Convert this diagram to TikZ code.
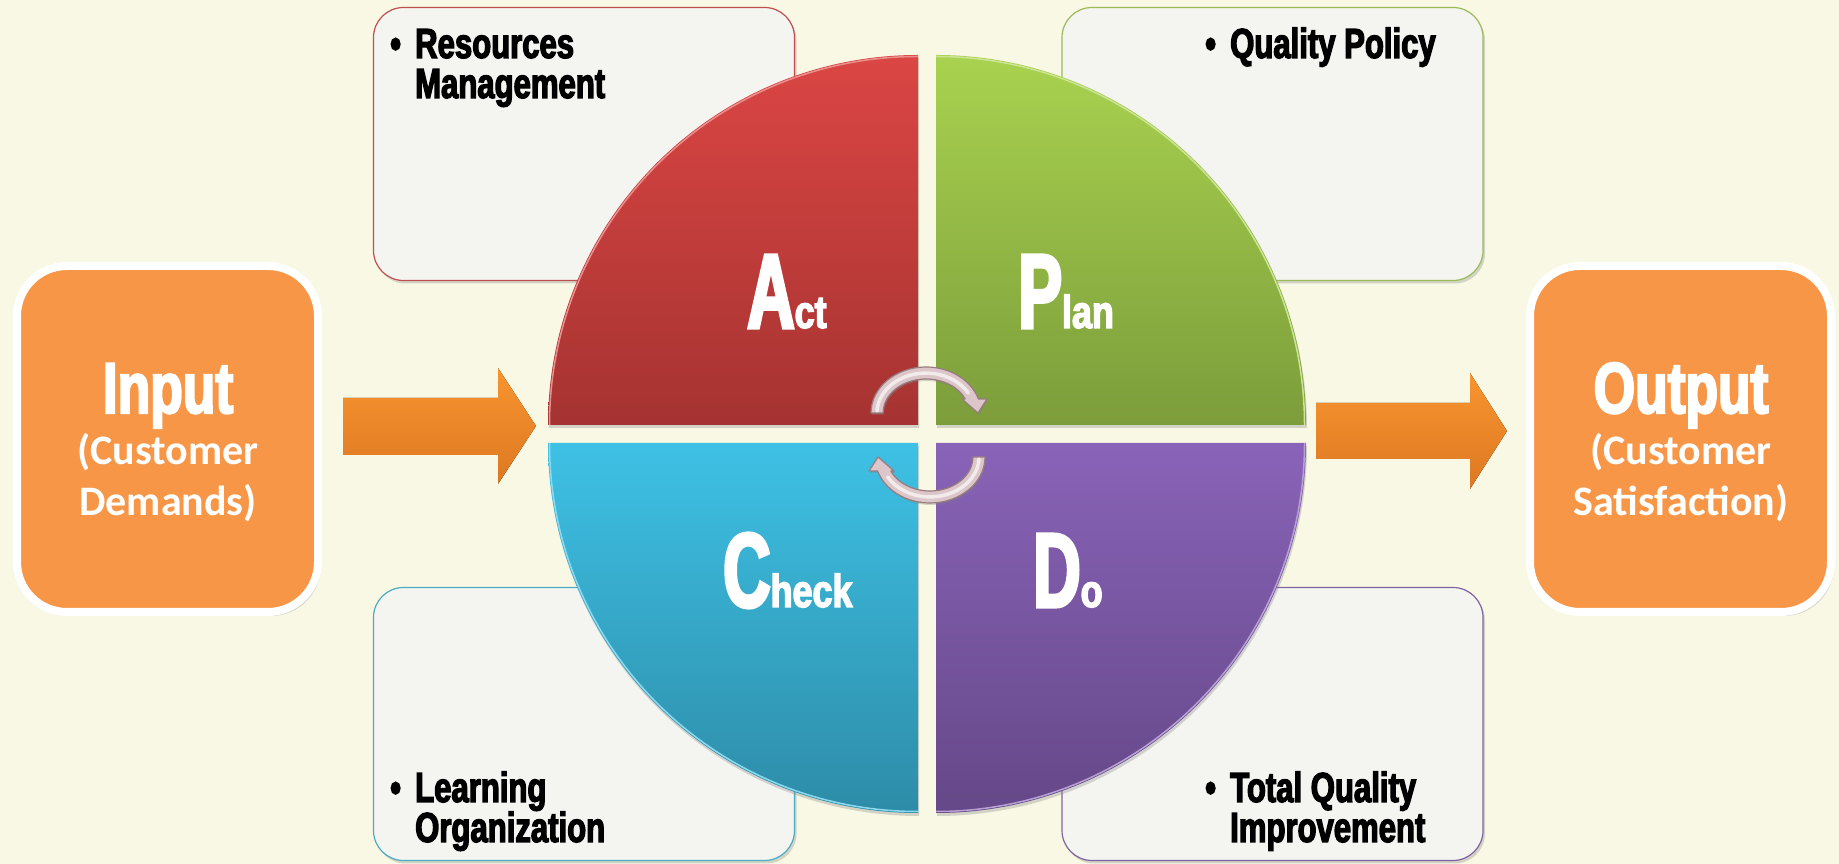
\documentclass[tikz,border=0pt]{standalone}
\usepackage{fontspec}
\setmainfont{Liberation Sans}
\newfontfamily\impbox[FakeStretch=0.74,FakeBold=3]{Liberation Sans}
\newfontfamily\impcap[FakeStretch=0.62,FakeBold=3]{Liberation Sans}
\newfontfamily\implow[FakeStretch=0.78,FakeBold=3]{Liberation Sans}
\newfontfamily\calib{Carlito}
\usetikzlibrary{shadows}
\definecolor{bg}{HTML}{F8F8E4}
\definecolor{orng}{HTML}{F79646}
\definecolor{boxfill}{HTML}{F4F4F0}
\definecolor{bred}{HTML}{C0504D}
\definecolor{bgreen}{HTML}{9BBB59}
\definecolor{bblue}{HTML}{4BACC6}
\definecolor{bpurple}{HTML}{8064A2}
\definecolor{actT}{HTML}{DB4644}
\definecolor{actB}{HTML}{A53331}
\definecolor{planT}{HTML}{A9D24F}
\definecolor{planB}{HTML}{7C9D3B}
\definecolor{checkT}{HTML}{3EC1E5}
\definecolor{checkB}{HTML}{2D8CA8}
\definecolor{doT}{HTML}{8963B8}
\definecolor{doB}{HTML}{654888}
\definecolor{arrT}{HTML}{F8952F}
\definecolor{arrB}{HTML}{DD7822}
\definecolor{cycfill}{HTML}{DCC6C9}
\definecolor{cycedge}{HTML}{977C80}
\newcommand\smallpart[1]{{\implow\bfseries\fontsize{46}{46}\selectfont #1}}
\begin{document}
\begin{tikzpicture}[x=1pt,y=1pt,
  infobox/.style={rectangle, rounded corners=30pt, fill=boxfill, line width=1.2pt,
    minimum width=421pt, minimum height=273pt,
    drop shadow={shadow xshift=2pt, shadow yshift=-3pt, opacity=0.3}},
  iobox/.style={rectangle, rounded corners=50pt, fill=orng, draw=white, line width=8pt,
    minimum width=301pt, minimum height=346pt,
    drop shadow={shadow xshift=3pt, shadow yshift=-4pt, opacity=0.3}},
  quad/.style={drop shadow={shadow xshift=1pt, shadow yshift=-3pt, opacity=0.3}},
  bigarrow/.style={top color=arrT, bottom color=arrB, draw=none},
  cyc/.style={fill=cycfill, draw=cycedge, line width=1.2pt, line join=round,
    drop shadow={shadow xshift=1pt, shadow yshift=-2pt, opacity=0.3}},
  cychl/.style={white, opacity=0.65, line width=3.5pt, line cap=round},
  pdca/.style={inner sep=0pt, anchor=base west, text=white,
    font=\impcap\bfseries\fontsize{106}{106}\selectfont},
  iotitle/.style={inner sep=0pt, anchor=base, text=white,
    font=\impbox\bfseries\fontsize{72}{72}\selectfont},
  iosub/.style={inner sep=0pt, anchor=base, text=white,
    font=\calib\bfseries\fontsize{42}{42}\selectfont},
  boxtxt/.style={inner sep=0pt, anchor=base west, text=black,
    font=\impbox\bfseries\fontsize{42}{42}\selectfont},
  bul/.style={boxtxt}
]
\useasboundingbox (0,0) rectangle (1839,864);
\fill[bg] (0,0) rectangle (1839,864);

% info boxes
\node[infobox, draw=bred] (boxA) at (584,720) {};
\node[infobox, draw=bgreen] (boxP) at (1272.5,720) {};
\node[infobox, draw=bblue] (boxC) at (584,140) {};
\node[infobox, draw=bpurple] (boxD) at (1272.5,140) {};

% input / output boxes
\node[iobox] (inBox) at (167.5,425) {};
\node[iobox] (outBox) at (1680.5,425) {};

% block arrows
\fill[bigarrow] (343,466) -- (498,466) -- (498,496) -- (536,438) -- (498,380) -- (498,409) -- (343,409) -- cycle;
\fill[bigarrow] (1316,461) -- (1470,461) -- (1470,491) -- (1507,433) -- (1470,375) -- (1470,405) -- (1316,405) -- cycle;

% quadrants
\path[quad, top color=actT, bottom color=actB] (918,439) -- (548,439) arc[start angle=180,end angle=90,radius=370] -- cycle;
\path[quad, top color=planT, bottom color=planB] (936,439) -- (936,809) arc[start angle=90,end angle=0,radius=370] -- cycle;
\path[quad, top color=checkT, bottom color=checkB] (918,421) -- (548,421) arc[start angle=180,end angle=270,radius=370] -- cycle;
\path[quad, top color=doT, bottom color=doB] (936,421) -- (1306,421) arc[start angle=0,end angle=-90,radius=370] -- cycle;
\draw[actT!60!white, line width=1.5pt] (549.5,439) arc[start angle=180,end angle=90,radius=368.5];
\draw[planT!60!white, line width=1.5pt] (936,807.5) arc[start angle=90,end angle=0,radius=368.5];
\draw[checkT!60!white, line width=1.5pt] (549.5,421) arc[start angle=180,end angle=270,radius=368.5];
\draw[doT!60!white, line width=1.5pt] (1304.5,421) arc[start angle=0,end angle=-90,radius=368.5];

% cycle arrows
\begin{scope}[shift={(926,451)}]
\filldraw[cyc] (-55,0) arc[start angle=180,end angle=17.7,x radius=55,y radius=46] -- (61,14) -- (52,0) -- (36,14) -- (39.2,14) arc[start angle=24.3,end angle=180,x radius=43,y radius=34] -- cycle;
\draw[cychl] (-49,2) arc[start angle=177,end angle=30,x radius=49,y radius=40];
\end{scope}
\begin{scope}[shift={(930,407)}]
\filldraw[cyc] (55,0) arc[start angle=0,end angle=-162.3,x radius=55,y radius=46] -- (-61,-14) -- (-52,0) -- (-36,-14) -- (-39.2,-14) arc[start angle=-155.7,end angle=0,x radius=43,y radius=34] -- cycle;
\draw[cychl] (49,-2) arc[start angle=-3,end angle=-150,x radius=49,y radius=40];
\end{scope}

% PDCA letters
\node[pdca] (actL) at (747,536) {A\smallpart{ct}};
\node[pdca] (planL) at (1018,536) {P\smallpart{lan}};
\node[pdca] (checkL) at (723,257) {C\smallpart{heck}};
\node[pdca] (doL) at (1033,257) {D\smallpart{o}};

% input / output texts
\node[iotitle] (inT) at (168,451) {Input};
\node[iosub] (inS1) at (168,399) {(Customer};
\node[iosub] (inS2) at (168,348) {Demands)};
\node[iotitle] (outT) at (1681,451) {Output};
\node[iosub] (outS1) at (1681,399) {(Customer};
\node[iosub] (outS2) at (1681,348) {Satisfaction)};

% box texts
\node[bul] (bA) at (390,806) {\textbullet};
\node[boxtxt] (tA1) at (415,806) {Resources};
\node[boxtxt] (tA2) at (415,766) {Management};
\node[bul] (bP) at (1205,806) {\textbullet};
\node[boxtxt] (tP1) at (1230,806) {Quality Policy};
\node[bul] (bC) at (390,62) {\textbullet};
\node[boxtxt] (tC1) at (415,62) {Learning};
\node[boxtxt] (tC2) at (415,22) {Organization};
\node[bul] (bD) at (1205,62) {\textbullet};
\node[boxtxt] (tD1) at (1230,62) {Total Quality};
\node[boxtxt] (tD2) at (1230,22) {Improvement};
\end{tikzpicture}
\end{document}
